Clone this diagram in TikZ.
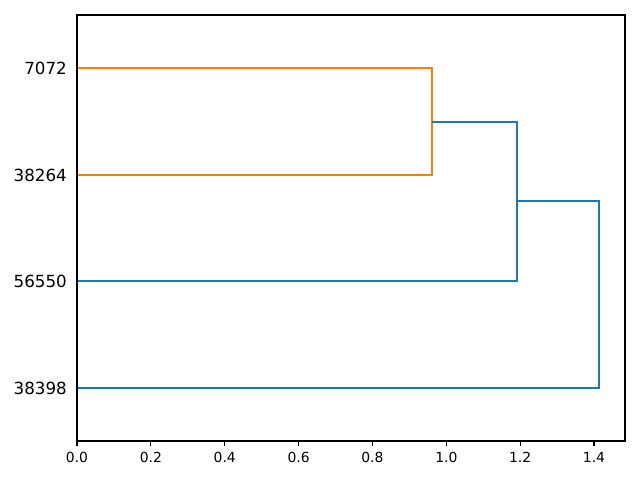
\documentclass[tikz,border=0pt]{standalone}
\usepackage{fontspec}
\setmainfont{DejaVu Sans}
\definecolor{mplblue}{HTML}{1F77B4}
\definecolor{mplorange}{HTML}{FF7F0E}
\begin{document}
\begin{tikzpicture}[x=1pt,y=-1pt,
  link/.style={line width=2pt},
  leaflab/.style={anchor=east,inner sep=0pt,font=\fontsize{16.7}{18}\selectfont},
  ticklab/.style={anchor=north,inner sep=0pt,font=\fontsize{13.9}{15}\selectfont},
  axisline/.style={line width=1.1pt}]
\useasboundingbox[fill=white] (0,0) rectangle (640,480);
% leaf coordinates (on y axis)
\coordinate (l1) at (77,68);
\coordinate (l2) at (77,175);
\coordinate (l3) at (77,281);
\coordinate (l4) at (77,388);
% merge coordinates
\coordinate (m1a) at (432,68);
\coordinate (m1b) at (432,175);
\coordinate (m1) at (432,121.5);
\coordinate (m2a) at (517,121.5);
\coordinate (m2b) at (517,281);
\coordinate (m2) at (517,201);
\coordinate (m3a) at (599,201);
\coordinate (m3b) at (599,388);
% links
\draw[link,mplorange] (l1) -- (m1a) -- (m1b) -- (l2);
\draw[link,mplblue] (m1) -- (m2a) -- (m2b) -- (l3);
\draw[link,mplblue] (m2) -- (m3a) -- (m3b) -- (l4);
% axes frame
\draw[axisline] (77,15) rectangle (625,441);
% leaf labels
\node[leaflab] (t1) at (67,68) {7072};
\node[leaflab] (t2) at (67,175) {38264};
\node[leaflab] (t3) at (67,281) {56550};
\node[leaflab] (t4) at (67,388) {38398};
% x ticks
\foreach \v/\lab [count=\i] in {0/0.0,0.2/0.2,0.4/0.4,0.6/0.6,0.8/0.8,1.0/1.0,1.2/1.2,1.4/1.4}{
  \draw[line width=1.1pt] ({77+369.3*\v},441) -- ({77+369.3*\v},446);
  \node[ticklab] (x\i) at ({77+369.3*\v},452) {\lab};
}
\end{tikzpicture}
\end{document}
